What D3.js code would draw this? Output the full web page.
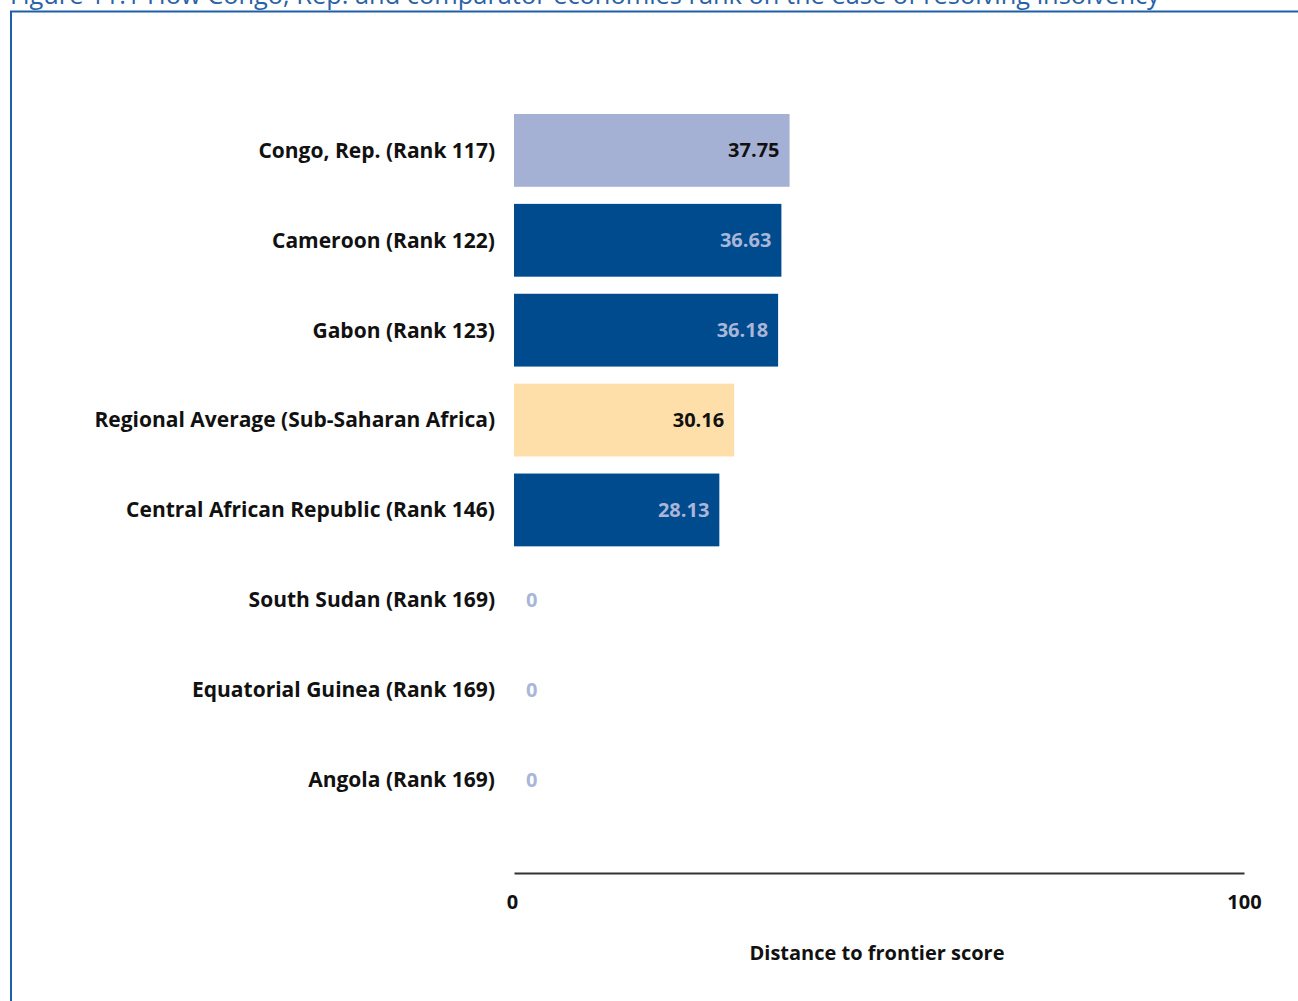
<!DOCTYPE html>
<html><head><meta charset="utf-8">
<script src="https://cdn.jsdelivr.net/npm/d3@7"></script>
<style>
html,body{margin:0;padding:0;background:#fff;overflow:hidden;}
</style></head>
<body>
<svg id="chart" width="1298" height="1001"></svg>
<script>
const categories = [
  "Congo, Rep. (Rank 117)",
  "Cameroon (Rank 122)",
  "Gabon (Rank 123)",
  "Regional Average (Sub-Saharan Africa)",
  "Central African Republic (Rank 146)",
  "South Sudan (Rank 169)",
  "Equatorial Guinea (Rank 169)",
  "Angola (Rank 169)"
];
const values = [37.75, 36.63, 36.18, 30.16, 28.13, 0, 0, 0];
const kinds = ["focus", "peer", "peer", "region", "peer", "peer", "peer", "peer"];
const tickValues = [0, 100];
const title = "Figure 11.1 How Congo, Rep. and comparator economies rank on the ease of resolving insolvency";
const axisTitle = "Distance to frontier score";

const fill = {focus: "#a5b1d4", peer: "#004b8d", region: "#fedfa9"};
const labelColor = {focus: "#111111", peer: "#a9b6d8", region: "#111111"};

const svg = d3.select("#chart");
const font = "'Open Sans', sans-serif";

// frame and title
svg.append("text").attr("x", 10).attr("y", 4).attr("fill", "#2a62a6")
  .style("font-family", font).style("font-size", "25.4px").text(title);
svg.append("path").attr("d", "M11,1001 V11.5 H1298").attr("fill", "none")
  .attr("stroke", "#1f5ea8").attr("stroke-width", 2);

const x = d3.scaleLinear().domain([0, 100]).range([514, 1244]);
const y = d3.scaleBand().domain(categories).range([105, 825]).paddingInner(0.19).paddingOuter(0.1);

const g = svg.append("g");
g.selectAll("rect").data(categories).join("rect")
  .attr("x", x(0))
  .attr("y", d => y(d))
  .attr("width", (d, i) => x(values[i]) - x(0))
  .attr("height", y.bandwidth())
  .attr("fill", (d, i) => fill[kinds[i]]);

// category labels
g.selectAll("text.cat").data(categories).join("text").attr("class", "cat")
  .attr("x", 495).attr("y", d => y(d) + y.bandwidth() / 2)
  .attr("dy", "0.35em").attr("text-anchor", "end")
  .style("font-family", font).style("font-weight", 700).style("font-size", "21px")
  .attr("fill", "#111").text(d => d);

// value labels
g.selectAll("text.val").data(categories).join("text").attr("class", "val")
  .attr("x", (d, i) => values[i] > 0 ? x(values[i]) - 10 : x(0) + 12)
  .attr("y", d => y(d) + y.bandwidth() / 2)
  .attr("dy", "0.35em")
  .attr("text-anchor", (d, i) => values[i] > 0 ? "end" : "start")
  .style("font-family", font).style("font-weight", 700).style("font-size", "20px")
  .attr("fill", (d, i) => values[i] > 0 ? labelColor[kinds[i]] : "#a9b6d8")
  .text((d, i) => values[i] > 0 ? values[i].toFixed(2) : "0");

// axis
const axis = d3.axisBottom(x).tickValues(tickValues).tickSize(0).tickPadding(22).tickFormat(d3.format("d"));
const ag = svg.append("g").attr("transform", "translate(0,873)").call(axis);
ag.select(".domain").attr("stroke", "#333").attr("stroke-width", 2);
ag.selectAll(".tick text").style("font-family", font).style("font-weight", 700)
  .style("font-size", "20px").attr("fill", "#111");
ag.selectAll(".tick").filter(d => d === 0).select("text").attr("dx", -2);

svg.append("text").attr("x", 877).attr("y", 960).attr("text-anchor", "middle")
  .style("font-family", font).style("font-weight", 700).style("font-size", "20px")
  .attr("fill", "#111").text(axisTitle);
</script>
</body></html>
